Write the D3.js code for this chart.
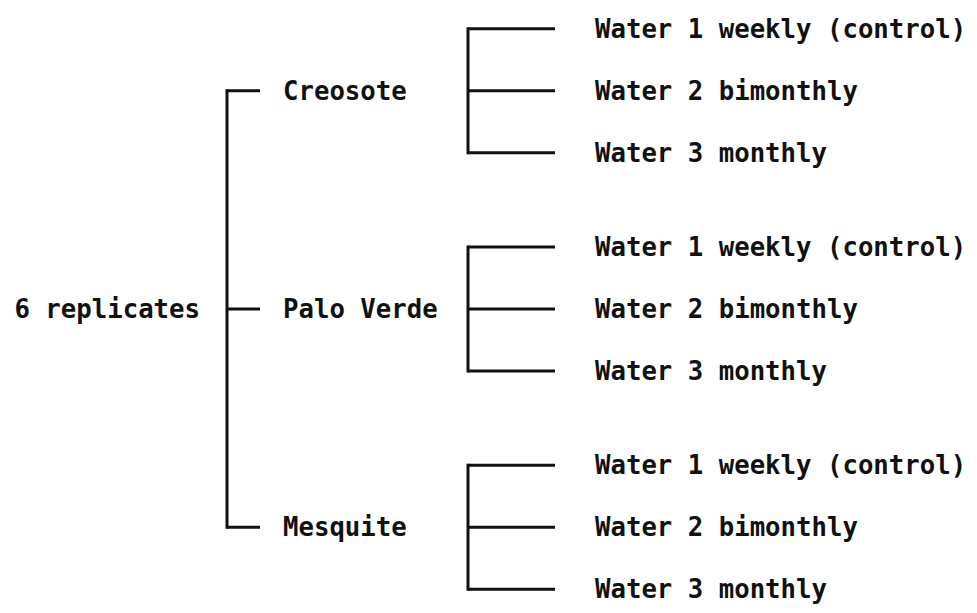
<!DOCTYPE html>
<html>
<head>
<meta charset="utf-8">
<script src="https://cdn.jsdelivr.net/npm/d3@7"></script>
<style>
  body { margin: 0; background: #fff; }
  text { font-family: "DejaVu Sans Mono", monospace; font-weight: bold; font-size: 25.7px; fill: #111; }
  .link { fill: none; stroke: #111; stroke-width: 3; }
</style>
</head>
<body>
<svg width="977" height="613"></svg>
<script>
var rootName = "6 replicates";
var species = ["Creosote", "Palo Verde", "Mesquite"];
var treatments = ["Water 1 weekly (control)", "Water 2 bimonthly", "Water 3 monthly"];

var svg = d3.select("svg");

// build the tree from the arrays
var treeData = {
  name: rootName,
  children: species.map(function(s) {
    return { name: s, children: treatments.map(function(t) { return { name: t }; }) };
  })
};

var root = d3.hierarchy(treeData);

// leaf rows 62px apart, a bit more between species groups
d3.cluster()
  .nodeSize([62, 1])
  .separation(function(a, b) { return a.parent === b.parent ? 1 : 1.52; })(root);

var rootY = 309;

// columns per depth: where the label starts/ends and where the bracket sits
var labelX = [200, 283, 595];
var bracketX = [227, 468];
var tickEnd = [260, 555];

var g = svg.append("g").attr("transform", "translate(0," + rootY + ")");

// brackets
root.descendants().filter(function(d) { return d.children; }).forEach(function(d) {
  var kids = d.children;
  var bx = bracketX[d.depth];
  g.append("line").attr("class", "link")
    .attr("x1", bx).attr("x2", bx)
    .attr("y1", kids[0].x - 1.5).attr("y2", kids[kids.length - 1].x + 1.5);
  kids.forEach(function(k) {
    g.append("line").attr("class", "link")
      .attr("x1", bx).attr("x2", tickEnd[d.depth])
      .attr("y1", k.x).attr("y2", k.x);
  });
});

// labels
g.selectAll(".label")
  .data(root.descendants())
  .enter()
  .append("text")
  .attr("class", "label")
  .attr("x", function(d) { return labelX[d.depth]; })
  .attr("y", function(d) { return d.x; })
  .attr("dy", "0.35em")
  .attr("text-anchor", function(d) { return d.depth === 0 ? "end" : "start"; })
  .text(function(d) { return d.data.name; });
</script>
</body>
</html>
